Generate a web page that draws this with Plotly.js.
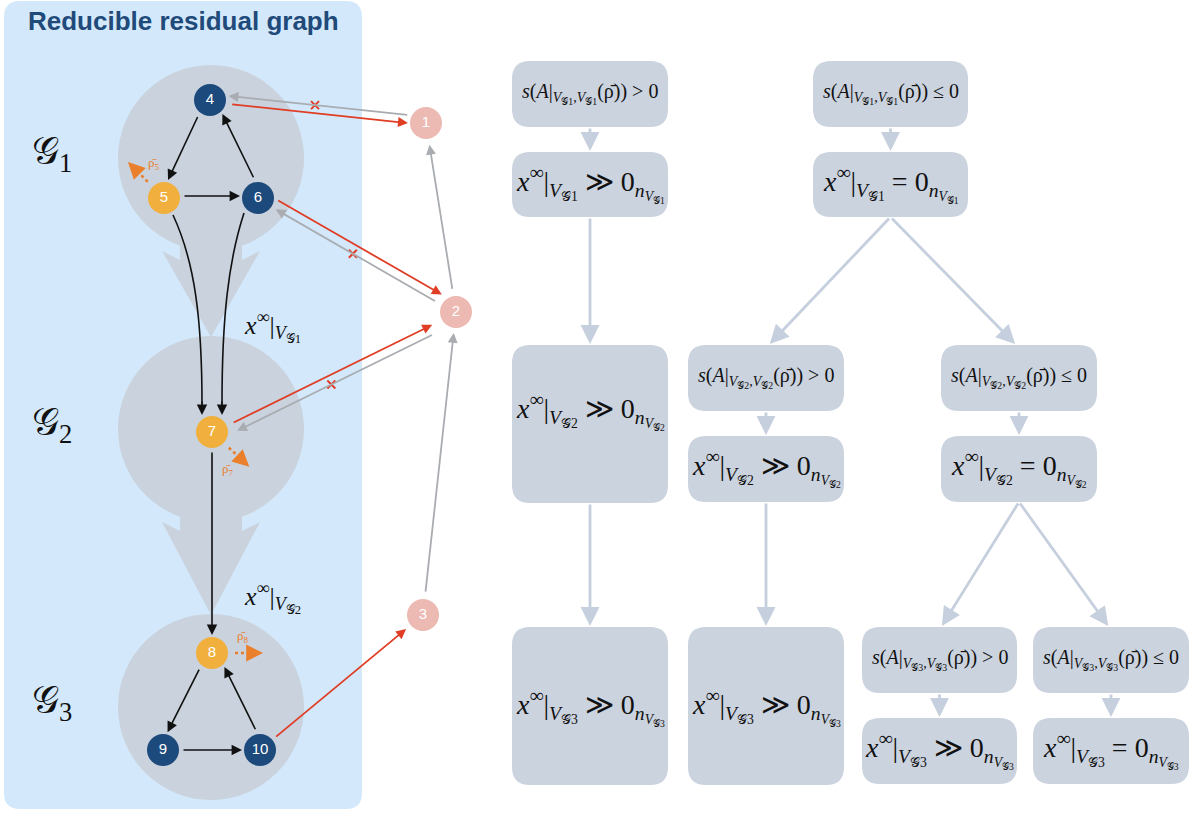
<!DOCTYPE html>
<html><head><meta charset="utf-8">
<script src="https://cdn.plot.ly/plotly-3.0.1.min.js"></script>
<style>html,body{margin:0;padding:0;background:#fff;}#chart{width:1196px;height:814px;}</style>
</head><body><div id="chart"></div>
<script>
// ---------------- data ----------------
const panelTitle = 'Reducible residual graph';
const nodeIds   = ['1','2','3','4','5','6','7','8','9','10'];
const nodeKind  = ['sink','sink','sink','core','leak','core','leak','leak','core','core'];
const nodeX     = [426, 456, 423, 210, 164, 258, 212, 212, 163, 260];
const nodeY     = [123, 312, 615, 100, 198, 198, 432, 653, 750, 750];

const groupNames = ['1','2','3'];
const groupCx    = [211, 211, 211];
const groupCy    = [158, 429, 707];
const groupFlowK = ['1','2'];           // x^inf|V_Gk labels between groups

// black internal edges: from, to, lateral offset
const blackFrom = ['4','6','5','7','8','10','9'];
const blackTo   = ['5','4','6','8','9','8','10'];
const blackOff  = [4, 5, -2, 0, 4, 5, 0];
// curved edges into group 2
const curveFrom = ['5','6'];
const curveTo   = ['7','7'];

// inter-group / outflow edges
const outFrom  = ['4','1','6','2','7','2','2','3','10'];
const outTo    = ['1','4','2','6','2','7','1','2','3'];
const outKind  = ['red','gray','red','gray','red','gray','gray','gray','red'];
const outOff   = [2, 6, -8, -1, 1, -10, 0, 0, 0];
const outTrimS = [21, 18, 17, 22, 22, 30, 22, 22, 19];
const outTrimE = [18, 18, 21, 21, 27, 23, 22, 21, 22];
const outCut   = [false, true, false, true, false, true, false, false, false];

// leak (rho bar) arrows
const leakNode  = ['5','7','8'];
const leakAngle = [225, 43, 0];

// flowchart boxes
const boxKind = ['condPos','condNeg','xPos','xZero','xPos','condPos','condNeg','xPos','xZero','xPos','xPos','condPos','condNeg','xPos','xZero'];
const boxK    = [1,1,1,1,2,2,2,2,2,3,3,3,3,3,3];
const boxX0   = [512, 813, 512, 813, 512, 688, 941, 688, 941, 512, 688, 862, 1033, 862, 1033];
const boxX1   = [668, 968, 668, 968, 668, 844, 1097, 844, 1097, 668, 844, 1017, 1189, 1017, 1189];
const boxY0   = [61, 61, 152, 152, 345, 345, 345, 436, 436, 627, 627, 627, 627, 718, 718];
const boxY1   = [127, 127, 217, 217, 503, 411, 411, 502, 502, 785, 785, 693, 693, 784, 784];
const boxTextY= [null,null,null,null,411,null,null,null,null,707,707,null,null,null,null];
// flowchart links (indices into boxes)
const linkFrom = [0, 1, 2, 3, 3, 4, 5, 6, 7, 8, 8, 11, 12];
const linkTo   = [2, 3, 4, 5, 6, 9, 7, 8, 10, 11, 12, 13, 14];

// ---------------- styles ----------------
const C = {
  panel:'#d3e9fb', group:'#c9d2dd', box:'#cbd3df', link:'#c5cfdd',
  core:'#1d4a7c', leak:'#f1b03d', sink:'#ecbab3', red:'#e03d25', gray:'#a9acb0',
  orange:'#ea7f2c', title:'#1f4a7a'
};
const SERIF = 'Liberation Serif, DejaVu Serif, serif';
const SANS  = 'Liberation Sans, Arial, sans-serif';

function idx(id){ return nodeIds.indexOf(id); }
function P(id){ const i = idx(id); return [nodeX[i], nodeY[i]]; }
function seg(a, b, off, ts, te){
  const [x1,y1] = P(a), [x2,y2] = P(b);
  const L = Math.hypot(x2-x1, y2-y1), ux=(x2-x1)/L, uy=(y2-y1)/L, px=-uy, py=ux;
  return {sx:x1+ux*ts+px*off, sy:y1+uy*ts+py*off, ex:x2-ux*te+px*off, ey:y2-uy*te+py*off};
}
function Vg(k){ return '<i>V</i><sub>𝒢'+k+'</sub>'; }
function boxLabel(kind,k){
  if(kind==='condPos') return '<i>s</i>(<i>A</i>|<sub>'+Vg(k)+','+Vg(k)+'</sub>(ρ̄)) > 0';
  if(kind==='condNeg') return '<i>s</i>(<i>A</i>|<sub>'+Vg(k)+','+Vg(k)+'</sub>(ρ̄)) ≤ 0';
  const rel = kind==='xPos' ? ' ≫ ' : ' = ';
  return '<i>x</i><sup>∞</sup>|<sub>'+Vg(k)+'</sub>'+rel+'0<sub><i>n</i><sub>'+Vg(k)+'</sub></sub>';
}
function rrect(x0,y0,x1,y1,r){
  return `M${x0+r},${y0} L${x1-r},${y0} Q${x1},${y0} ${x1},${y0+r} L${x1},${y1-r} Q${x1},${y1} ${x1-r},${y1} L${x0+r},${y1} Q${x0},${y1} ${x0},${y1-r} L${x0},${y0+r} Q${x0},${y0} ${x0+r},${y0} Z`;
}

const shapes = [], annotations = [], traces = [];

// panel
shapes.push({type:'path', xref:'x', yref:'y', layer:'below', path:rrect(4,1,362,809,16), fillcolor:C.panel, line:{width:0}});
annotations.push({x:183, y:21, xref:'x', yref:'y', text:'<b>'+panelTitle+'</b>', showarrow:false,
  font:{family:SANS, size:26, color:C.title}});

// group circles and big flow arrows
const R = 93;
groupNames.forEach((g,i)=>{
  shapes.push({type:'circle', xref:'x', yref:'y', layer:'below', x0:groupCx[i]-R, x1:groupCx[i]+R,
    y0:groupCy[i]-R, y1:groupCy[i]+R, fillcolor:C.group, line:{width:0}});
  annotations.push({x:30, y:groupCy[i]-4, xref:'x', yref:'y', xanchor:'left', showarrow:false,
    text:'𝒢<sub>'+g+'</sub>', font:{family:SERIF, size:38, color:'#111'}});
});
groupFlowK.forEach((k,i)=>{
  const cx = groupCx[i], top = groupCy[i]+40, base = groupCy[i]+102, tip = groupCy[i+1]-92;
  shapes.push({type:'path', xref:'x', yref:'y', layer:'below', fillcolor:C.group, line:{width:0},
    path:`M${cx-31},${top} L${cx-31},${base} L${cx-49},${base-9} L${cx},${tip} L${cx+49},${base-9} L${cx+31},${base} L${cx+31},${top} Z`});
  annotations.push({x:242, y:groupCy[i]+168, xref:'x', yref:'y', xanchor:'left', showarrow:false,
    text:'<i>x</i><sup>∞</sup>|<sub>'+Vg(k)+'</sub>', font:{family:SERIF, size:26, color:'#111'}});
});

// black internal edges
blackFrom.forEach((a,i)=>{
  const s = seg(a, blackTo[i], blackOff[i], 19, 18);
  annotations.push({x:s.ex, y:s.ey, ax:s.sx, ay:s.sy, xref:'x', yref:'y', axref:'x', ayref:'y',
    text:'', showarrow:true, arrowhead:2, arrowsize:1.3, arrowwidth:1.6, arrowcolor:'#111', standoff:0, startstandoff:0});
});
// curved edges
const curvePaths = ['M173,215 C195,262 202,320 202,404', 'M244,213 C228,262 222,320 222,404'];
curveFrom.forEach((a,i)=>{
  const [tx,ty] = P(curveTo[i]);
  const xs = i===0 ? tx-10 : tx+10;
  shapes.push({type:'path', xref:'x', yref:'y', layer:'above', path:curvePaths[i], line:{color:'#111', width:1.6}});
  annotations.push({x:xs, y:ty-17, ax:xs, ay:ty-32, xref:'x', yref:'y', axref:'x', ayref:'y',
    text:'', showarrow:true, arrowhead:2, arrowsize:1.3, arrowwidth:1.6, arrowcolor:'#111', standoff:0});
});

// out edges (red / gray)
outFrom.forEach((a,i)=>{
  const s = seg(a, outTo[i], outOff[i], outTrimS[i], outTrimE[i]);
  const col = outKind[i]==='red' ? C.red : C.gray;
  annotations.push({x:s.ex, y:s.ey, ax:s.sx, ay:s.sy, xref:'x', yref:'y', axref:'x', ayref:'y',
    text:'', showarrow:true, arrowhead:2, arrowsize:1.1, arrowwidth:1.8, arrowcolor:col, standoff:0});
  if(outCut[i]){
    const t = 0.52;
    traces.push({type:'scatter', mode:'markers', x:[s.sx+(s.ex-s.sx)*t], y:[s.sy+(s.ey-s.sy)*t], hoverinfo:'skip',
      marker:{symbol:'x-thin', size:8, line:{color:C.red, width:2}}, showlegend:false});
  }
});

// leak arrows
leakNode.forEach((n,i)=>{
  const [x,y] = P(n); const a = leakAngle[i]*Math.PI/180; const ux=Math.cos(a), uy=Math.sin(a);
  traces.push({type:'scatter', mode:'lines', x:[x+ux*23, x+ux*37], y:[y+uy*23, y+uy*37], hoverinfo:'skip',
    line:{color:C.orange, width:2.6, dash:'dot'}, showlegend:false});
  annotations.push({x:x+ux*51, y:y+uy*51, ax:x+ux*38, ay:y+uy*38, xref:'x', yref:'y', axref:'x', ayref:'y',
    text:'', showarrow:true, arrowhead:2, arrowsize:1.4, arrowwidth:2.4, arrowcolor:C.orange, standoff:0});
});
const rhoLabelX = [154, 228, 243], rhoLabelY = [163, 469, 636];
leakNode.forEach((n,i)=>{
  annotations.push({x:rhoLabelX[i], y:rhoLabelY[i], xref:'x', yref:'y', showarrow:false,
    text:'ρ̄<sub>'+n+'</sub>', font:{family:SERIF, size:13, color:C.orange}});
});

// nodes
traces.push({type:'scatter', mode:'markers+text', x:nodeX, y:nodeY, text:nodeIds, hoverinfo:'skip',
  textposition:'middle center', textfont:{family:SANS, size:15, color:'#fff'},
  marker:{size:32, color:nodeKind.map(k=>C[k]), line:{width:0}}, showlegend:false});

// flowchart boxes
boxKind.forEach((k,i)=>{
  shapes.push({type:'path', xref:'x', yref:'y', layer:'below', path:rrect(boxX0[i],boxY0[i],boxX1[i],boxY1[i],18),
    fillcolor:C.box, line:{width:0}});
  const isCond = k.startsWith('cond');
  annotations.push({x:(boxX0[i]+boxX1[i])/2, y:boxTextY[i]!==null ? boxTextY[i] : (boxY0[i]+boxY1[i])/2 - 1,
    xref:'x', yref:'y', showarrow:false, text:boxLabel(k, boxK[i]),
    font:{family:SERIF, size:isCond?20:28, color:'#111'}});
});
linkFrom.forEach((f,i)=>{
  const t = linkTo[i];
  const sx = (boxX0[f]+boxX1[f])/2, sy = boxY1[f];
  let ex = (boxX0[t]+boxX1[t])/2; const ey = boxY0[t];
  if(Math.abs(ex-sx) > 5) ex = sx + (ex-sx)*0.97;
  annotations.push({x:ex, y:ey-1, ax:sx, ay:sy, xref:'x', yref:'y', axref:'x', ayref:'y',
    text:'', showarrow:true, arrowhead:2, arrowsize:1.35, arrowwidth:2.8, arrowcolor:C.link, standoff:0});
});

const layout = {
  width:1196, height:814, margin:{l:0,r:0,t:0,b:0}, paper_bgcolor:'#fff', plot_bgcolor:'#fff',
  xaxis:{range:[0,1196], visible:false, fixedrange:true},
  yaxis:{range:[814,0], visible:false, fixedrange:true},
  shapes, annotations, showlegend:false
};
Plotly.newPlot('chart', traces, layout, {staticPlot:true, displayModeBar:false});
</script></body></html>
